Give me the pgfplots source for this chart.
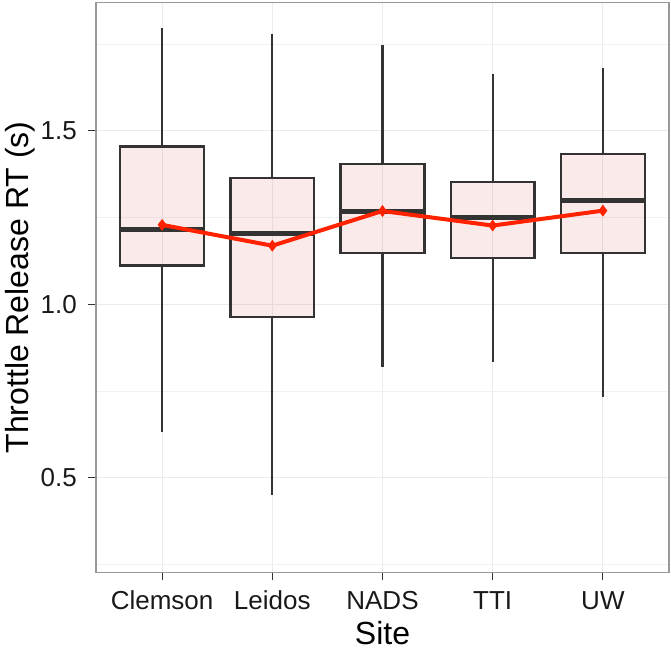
\documentclass[border=0pt]{standalone}
\usepackage{pgfplots}
\pgfplotsset{compat=1.18}
\usepgfplotslibrary{statistics}
\usepackage{fontspec}
\setmainfont{Liberation Sans}
\definecolor{boxfill}{RGB}{215,80,80}
\definecolor{boxline}{HTML}{333333}
\definecolor{gridc}{HTML}{EBEBEB}
\definecolor{meanred}{HTML}{FF2200}
\definecolor{framec}{HTML}{999999}
\begin{document}
\begin{tikzpicture}
\begin{axis}[
  scale only axis,
  width=573bp, height=570bp,
  xmin=0.4, xmax=5.6,
  ymin=0.227, ymax=1.870,
  xtick={1,2,3,4,5},
  xticklabels={Clemson,Leidos,NADS,TTI,UW},
  ytick={0.5,1.0,1.5},
  yticklabels={0.5,1.0,1.5},
  minor ytick={0.25,0.75,1.25,1.75},
  grid=both,
  major grid style={draw=gridc, line width=1.2bp},
  minor grid style={draw=gridc!70, line width=0.8bp},
  axis line style={draw=framec, line width=1.2bp},
  tick align=outside,
  xtick pos=bottom, ytick pos=left,
  major tick length=7.5bp,
  minor tick length=0pt,
  every tick/.style={draw=boxline, line width=1.2bp},
  tick label style={font=\fontsize{26bp}{30bp}\selectfont, text=black!90, inner sep=0pt},
  xticklabel style={anchor=base, yshift=-29.5bp},
  yticklabel style={anchor=east, xshift=-11.5bp},
  label style={font=\fontsize{32bp}{36bp}\selectfont},
  xlabel={Site},
  ylabel={Throttle Release RT (s)},
  xlabel style={at={(axis description cs:0.5,-0.1265)}, anchor=base, inner sep=0pt},
  ylabel style={at={(axis description cs:-0.1185,0.5)}, anchor=base, inner sep=0pt},
  boxplot/draw direction=y,
  boxplot/box extend=0.76,
  boxplot/whisker extend=0,
  clip=false,
]
\pgfplotsset{
  mybox/.style={solid, draw=boxline, line width=2.3bp, fill=boxfill, fill opacity=0.12,
    boxplot/every median/.style={line width=5bp, draw=boxline},
    boxplot/every whisker/.style={line width=2.2bp, draw=boxline}}
}
\addplot[mybox, boxplot prepared={draw position=1, lower whisker=0.633, lower quartile=1.112, median=1.216, upper quartile=1.455, upper whisker=1.796}] coordinates {};
\addplot[mybox, boxplot prepared={draw position=2, lower whisker=0.451, lower quartile=0.964, median=1.205, upper quartile=1.364, upper whisker=1.780}] coordinates {};
\addplot[mybox, boxplot prepared={draw position=3, lower whisker=0.818, lower quartile=1.148, median=1.267, upper quartile=1.404, upper whisker=1.748}] coordinates {};
\addplot[mybox, boxplot prepared={draw position=4, lower whisker=0.833, lower quartile=1.133, median=1.251, upper quartile=1.353, upper whisker=1.664}] coordinates {};
\addplot[mybox, boxplot prepared={draw position=5, lower whisker=0.734, lower quartile=1.148, median=1.299, upper quartile=1.433, upper whisker=1.681}] coordinates {};
\addplot[meanred, line width=4bp, mark=diamond*, mark size=5.5bp, mark options={line width=0.5bp}] coordinates {(1,1.229) (2,1.169) (3,1.269) (4,1.227) (5,1.270)};
\end{axis}
\pgfresetboundingbox
\path ([xshift=-96bp,yshift=-77.3bp]current axis.south west) rectangle ([xshift=2bp,yshift=2.5bp]current axis.north east);
\end{tikzpicture}
\end{document}
